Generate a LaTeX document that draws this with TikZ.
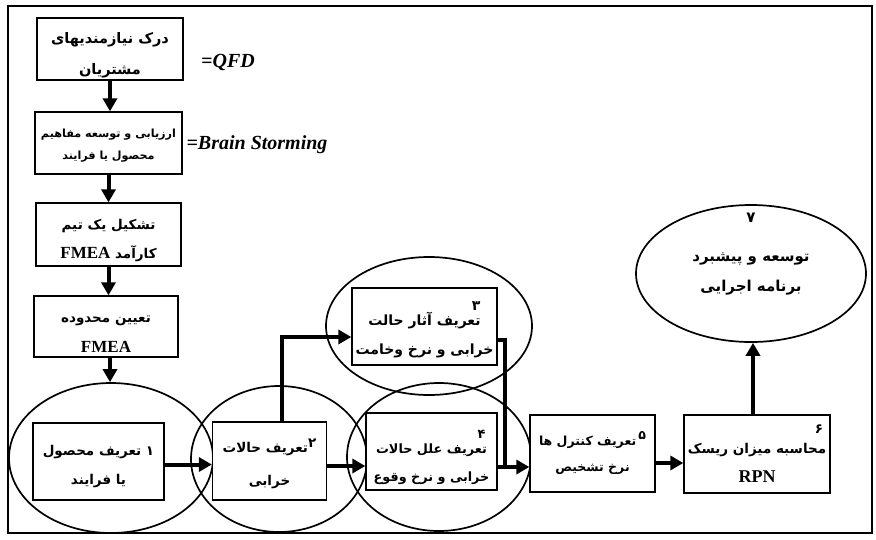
\documentclass[tikz,border=0pt]{standalone}
\usepackage{fontspec}
\usetikzlibrary{shapes.geometric,arrows.meta}
\setmainfont{Liberation Serif}
\newfontfamily\fafont[Script=Arabic]{DejaVu Sans}
\newfontfamily\latinfont{Liberation Serif}
\TeXXeTstate=1
\newcommand\fal[1]{\beginR #1\endR}
\newcommand\latb[2][17]{\beginL{\latinfont\bfseries\fontsize{#1}{#1}\selectfont #2}\endL}
\newcommand\fsz[2]{\fafont\bfseries\fontsize{#1}{#2}\selectfont}
\newcommand\pushdn[1]{\rule{0pt}{#1}}
\begin{document}
\begin{tikzpicture}[x=1pt,y=-1pt,
  boxx/.style={draw, line width=1.3pt, fill=white, inner sep=0pt, align=center,
    font=\fsz{13.5}{29}},
  ell/.style={draw, ellipse, line width=1.7pt, inner sep=0pt},
  arr/.style={line width=4pt, -{Triangle[length=13pt,width=14pt]}},
  conn/.style={line width=4pt},
  lat/.style={font=\latinfont\bfseries\itshape\fontsize{20}{20}\selectfont, inner sep=0pt}
]
\useasboundingbox (0,0) rectangle (876,539);
\draw[line width=1.8pt] (8,6) rectangle (872,533);

% ellipses
\node[ell, minimum width=204pt, minimum height=150pt] (E1) at (111,458) {};
\node[ell, minimum width=176pt, minimum height=146pt] (E2) at (279,459) {};
\node[ell, minimum width=206pt, minimum height=138pt] (E3) at (429,326) {};
\node[ell, minimum width=184pt, minimum height=148pt] (E4) at (439,457) {};
\node[ell, minimum width=230pt, minimum height=137pt] (E7) at (751,273.5) {};

% top column
\node[boxx, minimum width=146pt, minimum height=62pt, font=\fsz{14.5}{31}] (A) at (110,49)
  {\fal{\pushdn{24pt}درک نیازمندیهای}\\ \fal{مشتریان}};
\node[boxx, minimum width=147pt, minimum height=62pt, font=\fsz{11.2}{22}] (B) at (108.5,143)
  {\fal{\pushdn{14pt}ارزیابی و توسعه مفاهیم}\\ \fal{محصول یا فرایند}};
\node[boxx, minimum width=145pt, minimum height=63pt] (C) at (108.5,234.5)
  {\fal{\pushdn{23pt}تشکیل یک تیم}\\ \fal{کارآمد \latb{FMEA}}};
\node[boxx, minimum width=144pt, minimum height=61pt, font=\fsz{13.5}{30}] (D) at (106,326.5)
  {\fal{\pushdn{21pt}تعیین محدوده}\\ \latb{FMEA}};

\node[lat] (q) at (228,62) {=QFD};
\node[lat] (bs) at (257,145) {=Brain Storming};

% inner boxes
\node[boxx, minimum width=131pt, minimum height=77pt] (I1) at (98.5,461.5)
  {\fal{\pushdn{21pt}۱ تعریف محصول}\\ \fal{یا فرایند}};
\node[boxx, minimum width=114pt, minimum height=78pt, font=\fsz{13.5}{33}] (I2) at (269.5,461)
  {\fal{\pushdn{20pt}\raisebox{5pt}{۲}تعریف حالات}\\ \fal{خرابی}};
\node[boxx, minimum width=145pt, minimum height=77pt, font=\fsz{14}{28.5}] (I3) at (424.5,326.5)
  {\makebox[112pt][r]{\fal{\pushdn{15pt}۳}}\\[-13pt] \fal{تعریف آثار حالت}\\ \fal{خرابی و نرخ وخامت}};
\node[boxx, minimum width=131pt, minimum height=77pt, font=\fsz{12.8}{28}] (I4) at (431.5,451.5)
  {\makebox[108pt][r]{\fal{\pushdn{21pt}۴}}\\[-13pt] \fal{تعریف علل حالات}\\ \fal{خرابی و نرخ وقوع}};
\node[boxx, minimum width=125pt, minimum height=77pt, font=\fsz{12.5}{26}] (B5) at (592.5,453.5)
  {\fal{\raisebox{6pt}{۵}\,تعریف کنترل ها}\\ \fal{نرخ تشخیص}};
\node[boxx, minimum width=146pt, minimum height=78pt] (B6) at (757,454)
  {\makebox[132pt][r]{\fal{۶}}\\[-9pt] \fal{محاسبه میزان ریسک}\\ \latb[18]{RPN}};
\node[boxx, draw=none, fill=none, font=\fsz{15}{30}] (T7) at (751,254)
  {\fal{۷}\\[9pt] \fal{توسعه و پیشبرد}\\ \fal{برنامه اجرایی}};

% arrows
\draw[arr] (A.south) -- (A.south |- B.north);
\draw[arr] (B.south) -- (B.south |- C.north);
\draw[arr] (C.south) -- (C.south |- D.north);
\draw[arr] ([xshift=4pt]D.south) -- ([xshift=4pt]D.south |- E1.north);
\draw[arr] ([yshift=-3pt]I1.east) -- ([yshift=-3pt]I1.east -| I2.west);
\draw[arr] ([yshift=-5pt]I2.east) -- ([yshift=-5pt]I2.east -| I4.west);
\draw[arr] ([xshift=12pt]I2.north) |- ([yshift=-10.5pt]I3.west);
\coordinate (J) at (505,467);
\draw[conn] ([yshift=-13.5pt]I3.east) -| (J);
\draw[arr] ([yshift=-15.5pt]I4.east) -- ([yshift=-15.5pt]I4.east -| B5.west);
\draw[arr] ([yshift=-9.5pt]B5.east) -- ([yshift=-9.5pt]B5.east -| B6.west);
\draw[arr] ([xshift=-4pt]B6.north) -- ([xshift=-4pt]B6.north |- E7.south);
\end{tikzpicture}
\end{document}
